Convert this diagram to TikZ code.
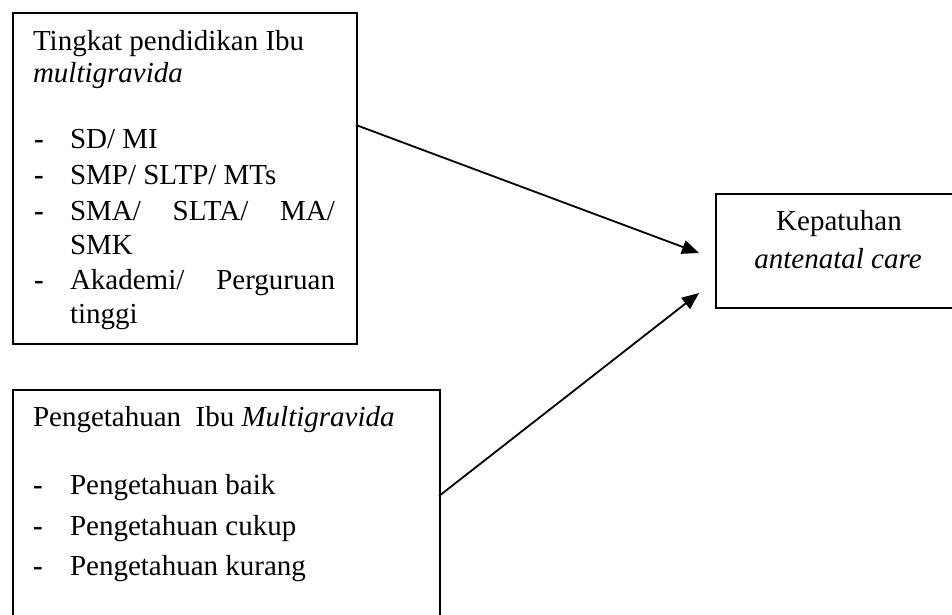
\documentclass[tikz,border=0pt]{standalone}
\usepackage{fontspec}
\setmainfont{Liberation Serif}
\usetikzlibrary{arrows.meta}
\tikzset{
  box/.style={draw=black, line width=1.7pt, fill=none, inner sep=0pt, anchor=north west},
  txt/.style={anchor=base west, inner sep=0pt, outer sep=0pt, font=\fontsize{29pt}{34pt}\selectfont},
  ctxt/.style={anchor=base, inner sep=0pt, outer sep=0pt, font=\fontsize{29pt}{34pt}\selectfont},
  dashmark/.style={anchor=base west, inner sep=0pt, outer sep=0pt, font=\fontsize{29pt}{34pt}\selectfont\bfseries},
  conn/.style={line width=1.8pt, -{Triangle[length=17pt,width=14pt]}}
}
\begin{document}
\begin{tikzpicture}[x=1pt,y=-1pt]
\useasboundingbox (0,0) rectangle (952,614);
\clip (0,0) rectangle (952,614);
\fill[white] (0,0) rectangle (952,614);
% boxes
\node[box, minimum width=344pt, minimum height=331pt] (b1) at (12,12) {};
\node[box, minimum width=427pt, minimum height=260pt] (b2) at (12,389) {};
\node[box, minimum width=248pt, minimum height=114pt] (b3) at (715,193) {};
% box 1 text
\node[txt] (t1a) at (33,50) {Tingkat pendidikan Ibu};
\node[txt] (t1b) at (33,82) {\itshape multigravida};
\node[dashmark] (d1) at (34,148) {-};
\node[txt] (t1c) at (70,148) {SD/ MI};
\node[dashmark] (d2) at (34,184) {-};
\node[txt] (t1d) at (70,184) {SMP/ SLTP/ MTs};
\node[dashmark] (d3) at (34,220) {-};
\node[txt] (t1e) at (70,220) {\hbox to 265pt{SMA/\hfill SLTA/\hfill MA/}};
\node[txt] (t1f) at (70,254) {SMK};
\node[dashmark] (d4) at (34,289) {-};
\node[txt] (t1g) at (70,289) {\hbox to 265pt{Akademi/\hfill Perguruan}};
\node[txt] (t1h) at (70,323) {tinggi};
% box 2 text
\node[txt] (t2a) at (33,426) {Pengetahuan\ \ Ibu \itshape Multigravida};
\node[dashmark] (d5) at (33,494) {-};
\node[txt] (t2b) at (70,494) {Pengetahuan baik};
\node[dashmark] (d6) at (33,535) {-};
\node[txt] (t2c) at (70,535) {Pengetahuan cukup};
\node[dashmark] (d7) at (33,575) {-};
\node[txt] (t2d) at (70,575) {Pengetahuan kurang};
% box 3 text
\node[ctxt] (t3a) at (839,230) {Kepatuhan};
\node[ctxt] (t3b) at (838,268) {\itshape antenatal care};
% connectors
\coordinate (s1) at (356,125);
\coordinate (e1) at (699,253);
\coordinate (s2) at (439,496);
\coordinate (e2) at (699,293);
\draw[conn] (s1) -- (e1);
\draw[conn] (s2) -- (e2);
\end{tikzpicture}
\end{document}
